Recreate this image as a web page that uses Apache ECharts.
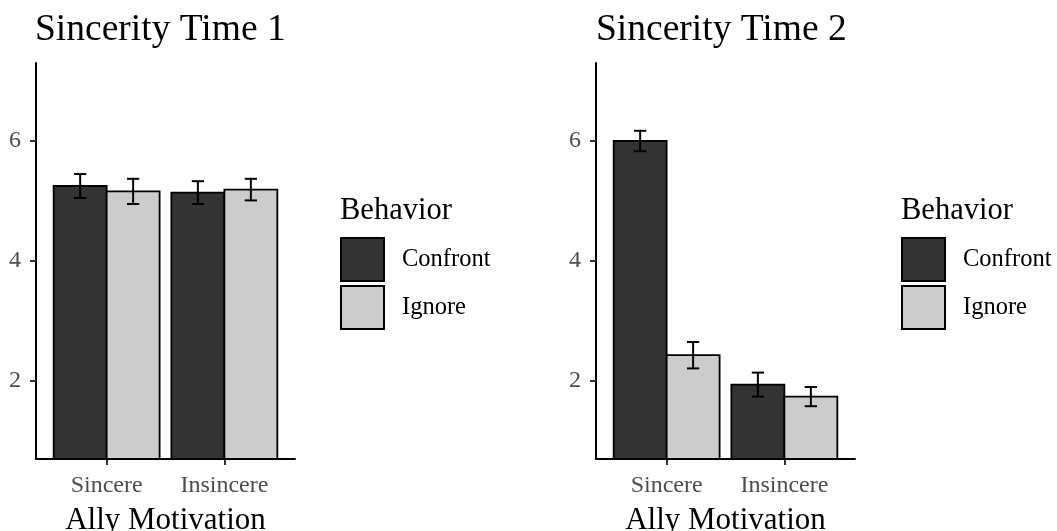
<!DOCTYPE html>
<html>
<head>
<meta charset="utf-8">
<script src="https://cdn.jsdelivr.net/npm/echarts@6/dist/echarts.min.js"></script>
<style>
  html, body { margin: 0; padding: 0; background: #ffffff; }
  #chart { width: 1057px; height: 531px; }
</style>
</head>
<body>
<div id="chart"></div>
<script>
// Ally motivation groups on the x axis
const categories = ['Sincere', 'Insincere'];
const behaviors = ['Confront', 'Ignore'];
const yTicks = [2, 4, 6];

// Sincerity at time 1: means and standard errors
const time1Confront = [5.25, 5.14];
const time1ConfrontSE = [0.20, 0.19];
const time1Ignore = [5.16, 5.19];
const time1IgnoreSE = [0.21, 0.18];

// Sincerity at time 2: means and standard errors
const time2Confront = [6.00, 1.94];
const time2ConfrontSE = [0.17, 0.20];
const time2Ignore = [2.43, 1.74];
const time2IgnoreSE = [0.22, 0.16];

const FONT = '"Liberation Serif", "DejaVu Serif", serif';
const FILL = { Confront: '#333333', Ignore: '#cccccc' };
const Y_MIN = 0.7, Y_MAX = 7.3;
const DODGE = 0.45;      // width of one bar in x units
const WHISKER = 0.052;   // half width of the error bar caps

function rows(means, ses) {
  return means.map((m, i) => [i + 1, m, ses[i]]);
}

function barRenderer(side) {
  return function (params, api) {
    const x = api.value(0), v = api.value(1), se = api.value(2);
    const x0 = side < 0 ? x - DODGE : x;
    const x1 = side < 0 ? x : x + DODGE;
    const xc = (x0 + x1) / 2;
    const pTopL = api.coord([x0, v]);
    const pBotR = api.coord([x1, Y_MIN]);
    const hi = api.coord([xc, v + se]);
    const lo = api.coord([xc, v - se]);
    const capL = api.coord([xc - WHISKER, 0])[0];
    const capR = api.coord([xc + WHISKER, 0])[0];
    const line = { stroke: '#000000', lineWidth: 2 };
    return {
      type: 'group',
      children: [
        {
          type: 'rect',
          shape: { x: pTopL[0], y: pTopL[1], width: pBotR[0] - pTopL[0], height: pBotR[1] - pTopL[1] },
          style: { fill: api.visual('color'), stroke: '#000000', lineWidth: 1.8 }
        },
        { type: 'line', shape: { x1: hi[0], y1: hi[1], x2: lo[0], y2: lo[1] }, style: line },
        { type: 'line', shape: { x1: capL, y1: hi[1], x2: capR, y2: hi[1] }, style: line },
        { type: 'line', shape: { x1: capL, y1: lo[1], x2: capR, y2: lo[1] }, style: line }
      ]
    };
  };
}

function xAxisFor(gridIndex) {
  return {
    type: 'value', gridIndex, min: 0.4, max: 2.6,
    name: 'Ally Motivation', nameLocation: 'middle', nameGap: 46,
    nameTextStyle: { fontFamily: FONT, fontSize: 31, color: '#000000' },
    axisLine: { show: true, onZero: false, lineStyle: { color: '#000000', width: 2 } },
    axisTick: { show: true, length: 6, customValues: [1, 2], lineStyle: { color: '#333333', width: 2 } },
    axisLabel: {
      customValues: [1, 2], margin: 15,
      fontFamily: FONT, fontSize: 24, color: '#4d4d4d',
      formatter: v => categories[Math.round(v) - 1] || ''
    },
    splitLine: { show: false }
  };
}

function yAxisFor(gridIndex) {
  return {
    type: 'value', gridIndex, min: Y_MIN, max: Y_MAX,
    axisLine: { show: true, onZero: false, lineStyle: { color: '#000000', width: 2 } },
    axisTick: { show: true, length: 6, customValues: yTicks, lineStyle: { color: '#333333', width: 2 } },
    axisLabel: { customValues: yTicks, margin: 15, fontFamily: FONT, fontSize: 24, color: '#4d4d4d' },
    splitLine: { show: false }
  };
}

function legendFor(left) {
  return {
    left, top: 237, orient: 'vertical', padding: 0,
    itemWidth: 43, itemHeight: 43, itemGap: 3,
    textStyle: { fontFamily: FONT, fontSize: 24.5, color: '#000000', padding: [0, 0, 0, 13] },
    selectedMode: false,
    data: behaviors.map(b => ({
      name: b, icon: 'rect',
      itemStyle: { color: FILL[b], borderColor: '#000000', borderWidth: 2 }
    }))
  };
}

const titleStyle = (size) => ({ fontFamily: FONT, fontSize: size, fontWeight: 'normal', color: '#000000' });

const chart = echarts.init(document.getElementById('chart'), null, { renderer: 'canvas' });
chart.setOption({
  backgroundColor: '#ffffff',
  animation: false,
  title: [
    { text: 'Sincerity Time 1', left: 35, top: 11, padding: 0, textStyle: titleStyle(37.5) },
    { text: 'Sincerity Time 2', left: 596, top: 11, padding: 0, textStyle: titleStyle(37.5) },
    { text: 'Behavior', left: 340, top: 195, padding: 0, textStyle: titleStyle(30.5) },
    { text: 'Behavior', left: 901, top: 195, padding: 0, textStyle: titleStyle(30.5) }
  ],
  legend: [legendFor(340), legendFor(901)],
  grid: [
    { left: 36, top: 63, width: 259, height: 396, outerBoundsMode: 'none' },
    { left: 596, top: 63, width: 259, height: 396, outerBoundsMode: 'none' }
  ],
  xAxis: [xAxisFor(0), xAxisFor(1)],
  yAxis: [yAxisFor(0), yAxisFor(1)],
  series: [
    { name: 'Confront', type: 'custom', xAxisIndex: 0, yAxisIndex: 0, itemStyle: { color: FILL.Confront },
      renderItem: barRenderer(-1), data: rows(time1Confront, time1ConfrontSE), clip: false },
    { name: 'Ignore', type: 'custom', xAxisIndex: 0, yAxisIndex: 0, itemStyle: { color: FILL.Ignore },
      renderItem: barRenderer(1), data: rows(time1Ignore, time1IgnoreSE), clip: false },
    { name: 'Confront', type: 'custom', xAxisIndex: 1, yAxisIndex: 1, itemStyle: { color: FILL.Confront },
      renderItem: barRenderer(-1), data: rows(time2Confront, time2ConfrontSE), clip: false },
    { name: 'Ignore', type: 'custom', xAxisIndex: 1, yAxisIndex: 1, itemStyle: { color: FILL.Ignore },
      renderItem: barRenderer(1), data: rows(time2Ignore, time2IgnoreSE), clip: false }
  ]
});
</script>
</body>
</html>
